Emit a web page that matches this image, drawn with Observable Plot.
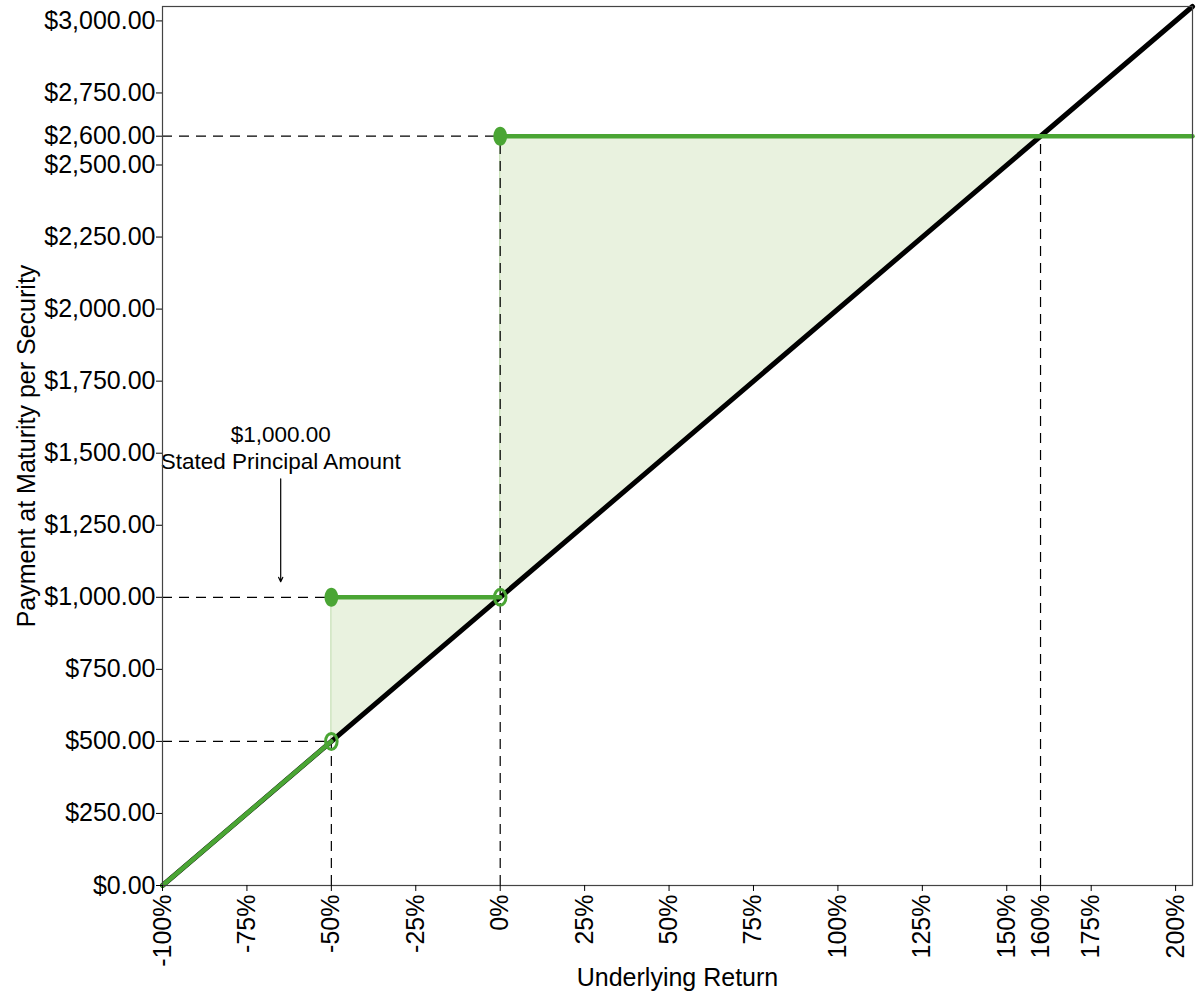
<!DOCTYPE html>
<html>
<head>
<meta charset="utf-8">
<script src="https://cdn.jsdelivr.net/npm/d3@7"></script>
<script src="https://cdn.jsdelivr.net/npm/@observablehq/plot@0.6"></script>
<style>
  html, body { margin: 0; padding: 0; background: white; }
  #chart { width: 1200px; height: 1000px; }
</style>
</head>
<body>
<div id="chart"></div>
<script>
// ---------- data ----------
const xDomain = [-100, 205];           // underlying return, %
const yDomain = [0, 3050];             // payment, $
const xTicks = [-100, -75, -50, -25, 0, 25, 50, 75, 100, 125, 150, 160, 175, 200];
const yTicks = [0, 250, 500, 750, 1000, 1250, 1500, 1750, 2000, 2250, 2500, 2600, 2750, 3000];

// direct investment in the underlying (black line)
const underlyingX = [-100, 205];
const underlyingY = [0, 3050];

// security payoff segments (green)
const seg1X = [-100, -50], seg1Y = [0, 500];
const seg2X = [-50, 0],    seg2Y = [1000, 1000];
const seg3X = [0, 205],    seg3Y = [2600, 2600];

// outperformance region (light green fill)
const fillX      = [-50, 0, 0, 160];
const fillLower  = [500, 1000, 1000, 2600];
const fillUpper  = [1000, 1000, 2600, 2600];

// key points
const filledX = [-50, 0],  filledY = [1000, 2600];
const openX   = [-50, 0],  openY   = [500, 1000];

// dashed guides
const hGuideY = [2600, 1000, 500], hGuideX = [0, -50, -50];
const vGuideX = [-50, 0, 160],     vGuideY = [500, 2600, 2600];

// annotation
const noteX = [-65];
const noteText = ["$1,000.00\nStated Principal Amount"];
const noteTextY = [1445];
const arrowY1 = [1411], arrowY2 = [1054];

// ---------- build tables ----------
const zip = (xs, ys) => xs.map((x, i) => ({x, y: ys[i]}));
const underlying = zip(underlyingX, underlyingY);
const segs = [
  ...zip(seg1X, seg1Y).map(d => ({...d, s: 1})),
  ...zip(seg2X, seg2Y).map(d => ({...d, s: 2})),
  ...zip(seg3X, seg3Y).map(d => ({...d, s: 3}))
];
const fill = fillX.map((x, i) => ({x, y1: fillLower[i], y2: fillUpper[i]}));
const filled = zip(filledX, filledY);
const open = zip(openX, openY);
const hGuides = hGuideY.map((y, i) => ({y, x: hGuideX[i]}));
const vGuides = vGuideX.map((x, i) => ({x, y: vGuideY[i]}));
const notes = noteX.map((x, i) => ({x, text: noteText[i], y: noteTextY[i], a1: arrowY1[i], a2: arrowY2[i]}));

// ellipse symbol (taller than wide)
const ellipse = {
  draw(ctx, size) {
    const ry = Math.sqrt(size / Math.PI), rx = ry * 0.72, k = 0.5523;
    ctx.moveTo(rx, 0);
    ctx.bezierCurveTo(rx, k * ry, k * rx, ry, 0, ry);
    ctx.bezierCurveTo(-k * rx, ry, -rx, k * ry, -rx, 0);
    ctx.bezierCurveTo(-rx, -k * ry, -k * rx, -ry, 0, -ry);
    ctx.bezierCurveTo(k * rx, -ry, rx, -k * ry, rx, 0);
    ctx.closePath();
  }
};

const green = "#4aa534";
const fontFamily = "'Liberation Sans', Arial, sans-serif";

const chart = Plot.plot({
  width: 1200,
  height: 1000,
  marginLeft: 162,
  marginRight: 8,
  marginTop: 6,
  marginBottom: 115,
  style: {fontFamily, fontSize: "25px", background: "white", color: "black", overflow: "visible"},
  x: {domain: xDomain},
  y: {domain: yDomain},
  marks: [
    Plot.areaY(fill, {x: "x", y1: "y1", y2: "y2", fill: "#e9f2df", stroke: "#c6e0b6", strokeWidth: 1.2, curve: "linear"}),
    Plot.ruleY(hGuides, {y: "y", x1: xDomain[0], x2: "x", stroke: "black", strokeWidth: 1.2, strokeDasharray: "10,7"}),
    Plot.ruleX(vGuides, {x: "x", y1: yDomain[0], y2: "y", stroke: "black", strokeWidth: 1.2, strokeDasharray: "10,7"}),
    Plot.line(underlying, {x: "x", y: "y", stroke: "black", strokeWidth: 5}),
    Plot.line(segs, {x: "x", y: "y", z: "s", stroke: green, strokeWidth: 4.5}),
    Plot.dot(open, {x: "x", y: "y", r: 8, symbol: ellipse, fill: "none", stroke: green, strokeWidth: 3}),
    Plot.dot(filled, {x: "x", y: "y", r: 9.5, symbol: ellipse, fill: green, stroke: "none"}),
    Plot.arrow(notes, {x: "x", y1: "a1", y2: "a2", stroke: "black", strokeWidth: 1.2, headLength: 6, headAngle: 50}),
    Plot.text(notes, {x: "x", y: "y", text: "text", fontSize: 22.5, lineAnchor: "bottom", lineHeight: 1.2, fill: "black"}),
    Plot.frame({stroke: "#444", strokeWidth: 1.2}),
    Plot.axisX({ticks: xTicks, tickFormat: d => d + "%", tickRotate: -90, tickSize: 6, tickPadding: 3,
      label: "Underlying Return", labelAnchor: "center", labelArrow: "none", labelOffset: 100, fontSize: 25}),
    Plot.axisY({ticks: yTicks, tickFormat: d => "$" + d3.format(",.2f")(d), tickSize: 6, tickPadding: 1,
      label: "Payment at Maturity per Security", labelAnchor: "center", labelArrow: "none", labelOffset: 145, fontSize: 25})
  ]
});
document.getElementById("chart").appendChild(chart);
</script>
</body>
</html>
